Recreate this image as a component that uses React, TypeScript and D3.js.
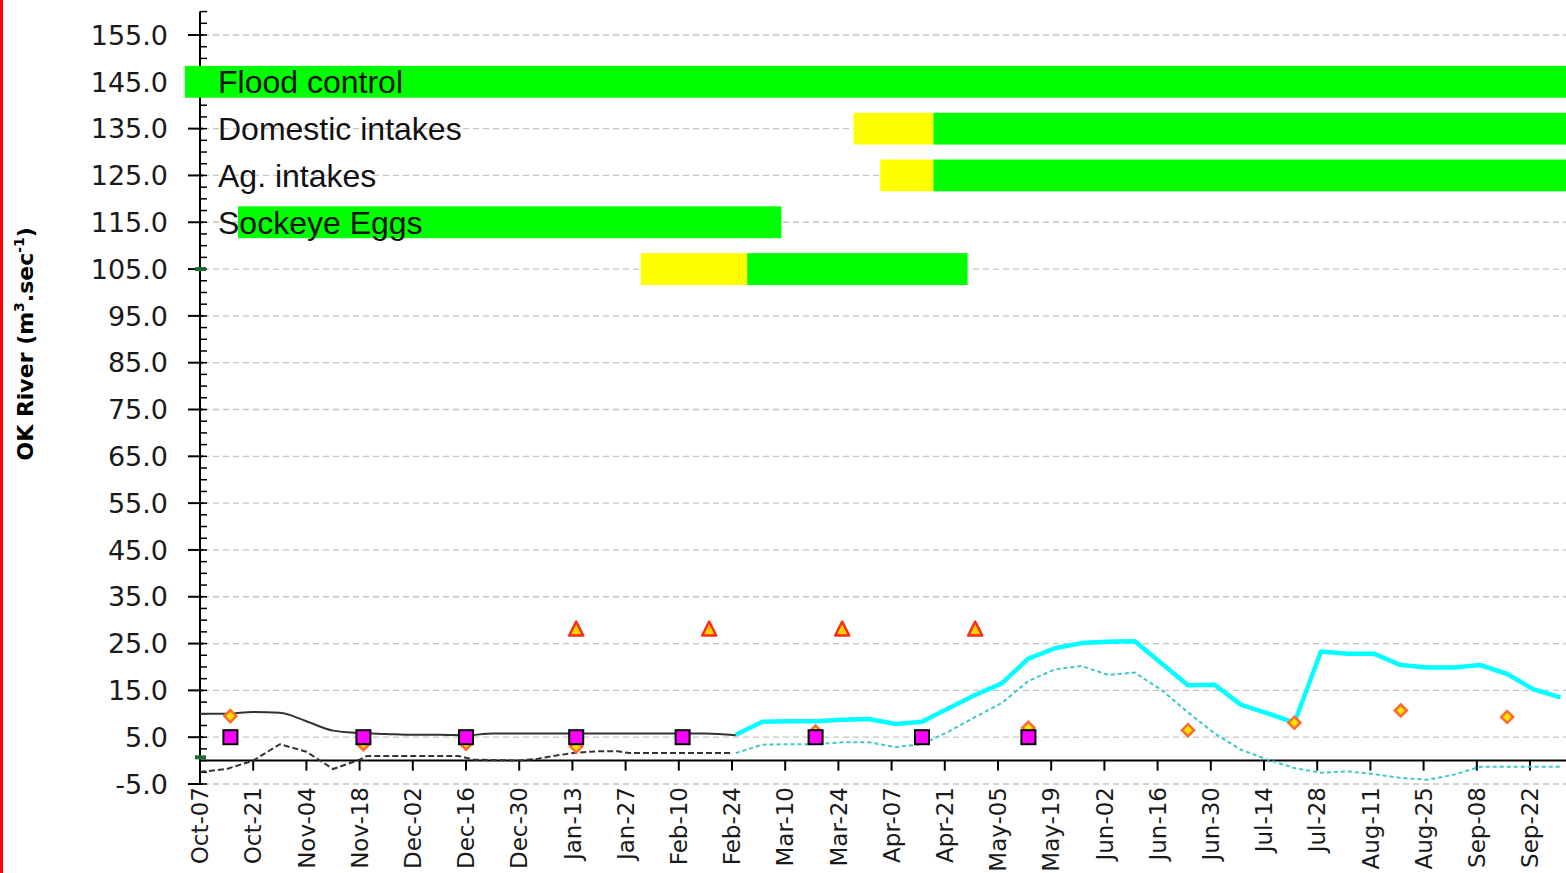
import React from 'react';
import * as d3 from 'd3';

// ---- data ----
const parse = d3.timeParse('%Y-%m-%d');

// x-axis tick dates (every two weeks)
const xTickDates = [
  '2018-10-07', '2018-10-21', '2018-11-04', '2018-11-18', '2018-12-02', '2018-12-16',
  '2018-12-30', '2019-01-13', '2019-01-27', '2019-02-10', '2019-02-24', '2019-03-10',
  '2019-03-24', '2019-04-07', '2019-04-21', '2019-05-05', '2019-05-19', '2019-06-02',
  '2019-06-16', '2019-06-30', '2019-07-14', '2019-07-28', '2019-08-11', '2019-08-25',
  '2019-09-08', '2019-09-22',
];
const yMajorTicks = [-5, 5, 15, 25, 35, 45, 55, 65, 75, 85, 95, 105, 115, 125, 135, 145, 155];

// observed flow (solid black)
const observedDates = [
  '2018-10-07', '2018-10-14', '2018-10-21', '2018-10-28', '2018-11-04', '2018-11-11',
  '2018-11-18', '2018-11-25', '2018-12-02', '2018-12-09', '2018-12-16', '2018-12-23',
  '2018-12-30', '2019-01-06', '2019-01-13', '2019-01-20', '2019-01-27', '2019-02-03',
  '2019-02-10', '2019-02-17', '2019-02-25',
];
const observedFlow = [
  10.0, 10.0, 10.4, 10.2, 8.4, 6.4, 5.9, 5.7, 5.5, 5.5, 5.4, 5.8, 5.8, 5.8, 5.8, 5.8, 5.8,
  5.8, 5.8, 5.8, 5.4,
];

// observed inflow (dashed black)
const inflowDates = [
  '2018-10-07', '2018-10-14', '2018-10-21', '2018-10-28', '2018-11-04', '2018-11-11',
  '2018-11-18', '2018-11-20', '2018-12-09', '2018-12-14', '2018-12-18', '2018-12-30',
  '2019-01-04', '2019-01-08', '2019-01-14', '2019-01-20', '2019-01-25', '2019-01-28',
  '2019-02-24',
];
const inflowValues = [
  -2.4, -1.8, 0.0, 3.5, 1.9, -1.8, 0.2, 1.0, 1.0, 1.0, 0.2, 0.0, 0.4, 1.0, 1.7, 2.0, 2.0,
  1.6, 1.6,
];

// forecast (weekly, Mondays)
const forecastDates = [
  '2019-02-25', '2019-03-04', '2019-03-11', '2019-03-18', '2019-03-25', '2019-04-01',
  '2019-04-08', '2019-04-15', '2019-04-22', '2019-04-29', '2019-05-06', '2019-05-13',
  '2019-05-20', '2019-05-27', '2019-06-03', '2019-06-10', '2019-06-17', '2019-06-24',
  '2019-07-01', '2019-07-08', '2019-07-15', '2019-07-22', '2019-07-29', '2019-08-05',
  '2019-08-12', '2019-08-19', '2019-08-26', '2019-09-02', '2019-09-09', '2019-09-16',
  '2019-09-23', '2019-09-30',
];
const forecastFlow = [
  5.5, 8.3, 8.4, 8.4, 8.7, 8.9, 7.8, 8.3, 11.2, 14.0, 16.5, 21.8, 24.0, 25.1, 25.4, 25.5,
  20.8, 16.1, 16.2, 11.9, 10.1, 8.1, 23.3, 22.8, 22.8, 20.4, 19.9, 19.9, 20.4, 18.5, 15.2,
  13.5,
];
const forecastInflow = [
  1.6, 3.4, 3.5, 3.5, 3.9, 3.9, 2.9, 3.5, 6.2, 9.3, 12.3, 17.0, 19.5, 20.2, 18.3, 18.8,
  15.1, 10.3, 5.8, 2.3, 0.2, -1.6, -2.6, -2.3, -2.9, -3.7, -4.1, -3.0, -1.3, -1.3, -1.3,
  -1.3,
];

// point markers
const squareDates = [
  '2018-10-15', '2018-11-19', '2018-12-16', '2019-01-14', '2019-02-11', '2019-03-18',
  '2019-04-15', '2019-05-13',
];
const squareValues = [5.0, 5.0, 5.0, 5.0, 5.0, 5.0, 5.0, 5.0];
const diamondDates = [
  '2018-10-15', '2018-11-19', '2018-12-16', '2019-01-14', '2019-03-18', '2019-05-13',
  '2019-06-24', '2019-07-22', '2019-08-19', '2019-09-16',
];
const diamondValues = [9.5, 3.5, 3.6, 3.0, 6.2, 7.0, 6.5, 8.1, 10.7, 9.3];
const triangleDates = ['2019-01-14', '2019-02-18', '2019-03-25', '2019-04-29'];
const triangleValues = [28, 28, 28, 28];
const greenMarkValues = [0.7, 105];

// status bands
const bandLabels = ['Flood control', 'Domestic intakes', 'Ag. intakes', 'Sockeye Eggs', ''];
const bandLevels = [145, 135, 125, 115, 105];
const segmentRow = [0, 1, 1, 2, 2, 3, 4, 4];
const segmentStart = [
  '2018-10-03', '2019-03-28', '2019-04-18', '2019-04-04', '2019-04-18', '2018-10-17',
  '2019-01-31', '2019-02-28',
];
const segmentEnd = [
  '2019-10-15', '2019-04-18', '2019-10-15', '2019-04-18', '2019-10-15', '2019-03-09',
  '2019-02-28', '2019-04-27',
];
const segmentStatus = ['ok', 'warn', 'ok', 'warn', 'ok', 'ok', 'warn', 'ok'];

const W = 1566;
const H = 873;
const statusColor: Record<string, string> = { ok: '#00ff00', warn: '#ffff00' };

const x = d3.scaleTime().domain([parse('2018-10-07')!, parse('2019-10-07')!]).range([200, 1587]);
const y = d3.scaleLinear().domain([-5, 160]).range([784, 11.6]);

const pts = (dates: string[], vals: number[]) => dates.map((d, i) => [x(parse(d)!), y(vals[i])] as [number, number]);

const smooth = d3.line().curve(d3.curveMonotoneX);
const straight = d3.line();
const fmtTick = d3.timeFormat('%b-%d');

export default function App() {
  const minorTicks = d3.range(-5, 160.01, 2.5);
  const bandHalf = 3.4;

  return (
    <svg width={W} height={H} style={{ position: 'absolute', left: 0, top: 0, background: '#fff' }}>
      <rect x={0} y={0} width={3} height={H} fill="#ff0000" />

      {/* grid */}
      {yMajorTicks.map((v) => (
        <line key={'g' + v} x1={203} x2={W} y1={y(v)} y2={y(v)} stroke="#c4c4c4" strokeWidth={1.3} strokeDasharray="6,4" />
      ))}

      {/* y axis */}
      <line x1={200} x2={200} y1={y(160)} y2={y(-5)} stroke="#000" strokeWidth={2} />
      {minorTicks.map((v) => (
        <line key={'m' + v} x1={200} x2={207} y1={y(v)} y2={y(v)} stroke="#000" strokeWidth={1.5} />
      ))}
      {yMajorTicks.map((v) => (
        <g key={'t' + v}>
          <line x1={188} x2={203} y1={y(v)} y2={y(v)} stroke="#000" strokeWidth={2} />
          <text x={168} y={y(v)} dy="0.36em" textAnchor="end" fontFamily="'DejaVu Sans', Verdana, sans-serif" fontSize={27} fill="#1a1a1a">
            {v.toFixed(1)}
          </text>
        </g>
      ))}
      <text transform={`translate(33,${(y(160) + y(-5)) / 2 - 54}) rotate(-90)`} textAnchor="middle"
        fontFamily="'DejaVu Sans', Verdana, sans-serif" fontWeight="bold" fontSize={22} fill="#000">
        OK River (m<tspan fontSize={14} dy={-9}>3</tspan><tspan dy={9}>.sec</tspan><tspan fontSize={14} dy={-9}>-1</tspan><tspan dy={9}>)</tspan>
      </text>

      {/* status bands (drawn over the axis, as in the source) */}
      {segmentRow.map((r, i) => (
        <rect
          key={'s' + i}
          x={x(parse(segmentStart[i])!)}
          width={x(parse(segmentEnd[i])!) - x(parse(segmentStart[i])!)}
          y={y(bandLevels[r] + bandHalf)}
          height={y(bandLevels[r] - bandHalf) - y(bandLevels[r] + bandHalf)}
          fill={statusColor[segmentStatus[i]]}
        />
      ))}
      {bandLabels.map((t, i) => (
        <text key={'bl' + i} x={x(parse(xTickDates[0])!) + 18} y={y(bandLevels[i])} dy="0.36em"
          fontFamily="'Liberation Sans', Arial, sans-serif" fontSize={32} fill="#111">
          {t}
        </text>
      ))}

      {/* x axis at zero */}
      <line x1={200} x2={W} y1={y(0)} y2={y(0)} stroke="#000" strokeWidth={2} />
      {xTickDates.map((d) => {
        const tx = x(parse(d)!);
        return (
          <g key={'x' + d}>
            <line x1={tx} x2={tx} y1={y(0)} y2={y(0) + 10} stroke="#000" strokeWidth={2} />
            <text transform={`translate(${tx},787) rotate(-90)`} dy="0.36em" textAnchor="end"
              fontFamily="'DejaVu Sans', Verdana, sans-serif" fontSize={23} fill="#1a1a1a">
              {fmtTick(parse(d)!)}
            </text>
          </g>
        );
      })}

      {/* small dark green marks */}
      {greenMarkValues.map((v, i) => (
        <rect key={'gm' + i} x={x(parse(xTickDates[0])!) - 5} y={y(v) - 2} width={11} height={4} fill="#1f6b2f" />
      ))}

      {/* series */}
      <path d={straight(pts(inflowDates, inflowValues))!} fill="none" stroke="#333" strokeWidth={2} strokeDasharray="6,3" />
      <path d={smooth(pts(observedDates, observedFlow))!} fill="none" stroke="#333" strokeWidth={2} />
      <path d={straight(pts(forecastDates, forecastInflow))!} fill="none" stroke="#3cc8c8" strokeWidth={2} strokeDasharray="4,3" />
      <path d={straight(pts(forecastDates, forecastFlow))!} fill="none" stroke="#00ffff" strokeWidth={4.5} strokeLinejoin="round" />

      {/* markers */}
      {diamondDates.map((d, i) => {
        const cx = x(parse(d)!);
        const cy = y(diamondValues[i]);
        return (
          <path key={'d' + i} d={`M${cx},${cy - 6}L${cx + 6},${cy}L${cx},${cy + 6}L${cx - 6},${cy}Z`}
            fill="#ffe400" stroke="#ff6a30" strokeWidth={2.5} />
        );
      })}
      {squareDates.map((d, i) => (
        <rect key={'q' + i} x={x(parse(d)!) - 7} y={y(squareValues[i]) - 7} width={14} height={14}
          fill="#ff00ff" stroke="#000" strokeWidth={2} />
      ))}
      {triangleDates.map((d, i) => {
        const cx = x(parse(d)!);
        const cy = y(triangleValues[i]);
        return (
          <path key={'tr' + i} d={`M${cx},${cy - 8}L${cx + 7},${cy + 6}L${cx - 7},${cy + 6}Z`}
            fill="#ffd000" stroke="#ff2a1a" strokeWidth={2.5} strokeLinejoin="round" />
        );
      })}
    </svg>
  );
}
